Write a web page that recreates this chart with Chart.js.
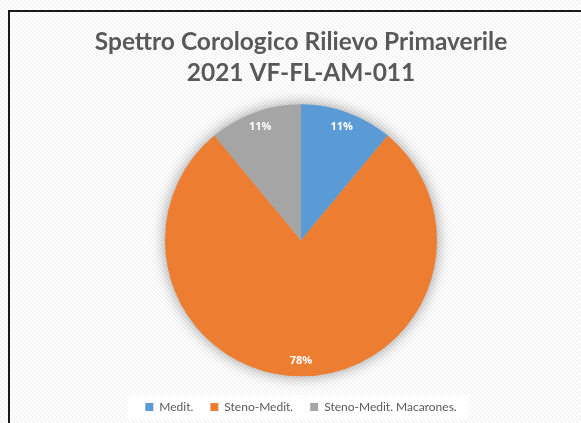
<!DOCTYPE html>
<html>
<head>
<meta charset="utf-8">
<script src="https://cdn.jsdelivr.net/npm/chart.js@4.4.0/dist/chart.umd.min.js"></script>
<style>
  html, body { margin: 0; padding: 0; background: #fff; }
  #wrap { width: 581px; height: 423px; }
</style>
</head>
<body>
<div id="wrap"><canvas id="pie"></canvas></div>
<script>
// Chart data
const categories = ['Medit.', 'Steno-Medit.', 'Steno-Medit. Macarones.'];
const percentages = [11, 78, 11];
const sliceColors = ['#5B9BD5', '#ED7D31', '#A5A5A5'];
const titleLines = ['Spettro Corologico Rilievo Primaverile', '2021 VF-FL-AM-011'];

// Hatched background pattern, like the Excel chart area fill
function makeHatch() {
    const c = document.createElement('canvas');
    c.width = 4; c.height = 4;
    const g = c.getContext('2d');
    g.fillStyle = '#ffffff';
    g.fillRect(0, 0, 4, 4);
    g.fillStyle = '#eeeeee';
    for (let i = 0; i < 4; i++) g.fillRect(i, i, 1, 1);
    return g.createPattern(c, 'repeat');
}

const backgroundPlugin = {
    id: 'background',
    beforeDraw(chart) {
        const ctx = chart.ctx;
        ctx.save();
        ctx.fillStyle = makeHatch();
        ctx.fillRect(0, 0, chart.width, chart.height);
        // frame of the chart object
        ctx.strokeStyle = '#1a1a1a';
        ctx.lineWidth = 2;
        ctx.strokeRect(9, 11, chart.width + 20, chart.height + 20);
        // white box behind the legend
        const lg = chart.legend;
        if (lg && lg.legendHitBoxes && lg.legendHitBoxes.length) {
            const boxes = lg.legendHitBoxes;
            const x0 = boxes[0].left - 18;
            const last = boxes[boxes.length - 1];
            const x1 = last.left + last.width + 12;
            ctx.fillStyle = '#ffffff';
            ctx.fillRect(x0, boxes[0].top - 6, x1 - x0, boxes[0].height + 12);
        }
        ctx.restore();
    }
};

// Soft shadow under the pie
const shadowPlugin = {
    id: 'pieShadow',
    beforeDatasetsDraw(chart) {
        const arc = chart.getDatasetMeta(0).data[0];
        if (!arc) return;
        const ctx = chart.ctx;
        ctx.save();
        ctx.shadowColor = 'rgba(0,0,0,0.45)';
        ctx.shadowBlur = 16;
        ctx.fillStyle = '#bbbbbb';
        ctx.beginPath();
        ctx.arc(arc.x, arc.y, arc.outerRadius - 1, 0, Math.PI * 2);
        ctx.fill();
        ctx.restore();
    }
};

// Percentage labels inside the slices
const labelPlugin = {
    id: 'sliceLabels',
    afterDatasetsDraw(chart) {
        const ctx = chart.ctx;
        const meta = chart.getDatasetMeta(0);
        ctx.save();
        ctx.fillStyle = '#ffffff';
        ctx.font = 'bold 11px "Open Sans", sans-serif';
        ctx.textAlign = 'center';
        ctx.textBaseline = 'middle';
        meta.data.forEach((arc, i) => {
            const mid = (arc.startAngle + arc.endAngle) / 2;
            const r = arc.outerRadius * 0.885;
            ctx.fillText(percentages[i] + '%', arc.x + Math.cos(mid) * r, arc.y + Math.sin(mid) * r);
        });
        ctx.restore();
    }
};

new Chart(document.getElementById('pie'), {
    type: 'pie',
    data: {
        labels: categories,
        datasets: [{
            data: percentages,
            backgroundColor: sliceColors,
            borderWidth: 0,
            radius: 136
        }]
    },
    options: {
        responsive: true,
        maintainAspectRatio: false,
        animation: false,
        layout: { padding: { left: 21, right: 0, top: 10, bottom: 0 } },
        plugins: {
            title: {
                display: true,
                text: titleLines,
                color: '#595959',
                font: { family: 'Lato', size: 24.5, weight: 'bold', lineHeight: 1.28 },
                padding: { top: 16, bottom: 8 }
            },
            legend: {
                position: 'bottom',
                labels: {
                    color: '#595959',
                    font: { family: 'Lato', size: 12 },
                    boxWidth: 8,
                    boxHeight: 8,
                    padding: 17
                }
            },
            tooltip: { enabled: false }
        }
    },
    plugins: [backgroundPlugin, shadowPlugin, labelPlugin]
});
</script>
</body>
</html>
